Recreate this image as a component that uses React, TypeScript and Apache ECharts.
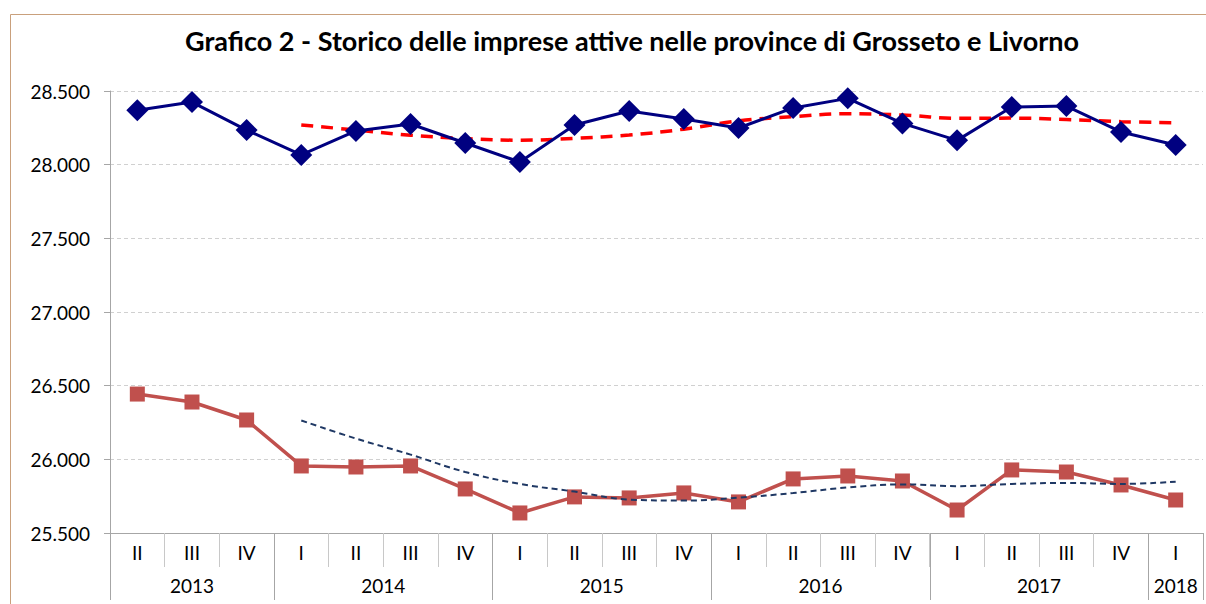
import React, { useEffect, useRef } from "react";
import * as echarts from "echarts";

const quarters = ["II", "III", "IV", "I", "II", "III", "IV", "I", "II", "III", "IV", "I", "II", "III", "IV", "I", "II", "III", "IV", "I"];
const years = ["2013", "2014", "2015", "2016", "2017", "2018"];
const yearSpans = [3, 4, 4, 4, 4, 1];

const grosseto = [28370, 28425, 28235, 28066, 28229, 28276, 28147, 28018, 28269, 28364, 28310, 28249, 28385, 28450, 28280, 28165, 28391, 28398, 28222, 28134];
const livorno = [26443, 26389, 26267, 25955, 25948, 25955, 25799, 25636, 25745, 25738, 25772, 25711, 25867, 25887, 25853, 25656, 25928, 25914, 25826, 25724];
const grossetoTrend = [null, null, null, 28270, 28235, 28200, 28177, 28166, 28179, 28201, 28241, 28297, 28326, 28346, 28337, 28315, 28316, 28306, 28292, 28284];
const livornoTrend = [null, null, null, 26264, 26141, 26032, 25914, 25833, 25781, 25727, 25720, 25740, 25771, 25809, 25830, 25818, 25833, 25840, 25833, 25848];

const fmt = (v: number) => {
  const s = Math.round(v).toString();
  return s.replace(/\B(?=(\d{3})+(?!\d))/g, ".");
};

export default function App() {
  const ref = useRef<HTMLDivElement>(null);
  useEffect(() => {
    if (!ref.current) return;
    const chart = echarts.init(ref.current, null, { renderer: "svg" });

    // year axis: half-step slots so labels can sit at group centres
    const nSlots = quarters.length * 2 + 1;
    const yearSlots: string[] = new Array(nSlots).fill("");
    const boundaries = new Set<number>();
    let start = 0;
    years.forEach((y, i) => {
      boundaries.add(start * 2);
      yearSlots[start * 2 + yearSpans[i]] = y;
      start += yearSpans[i];
    });
    boundaries.add(start * 2);

    const font = "Lato, 'Open Sans', sans-serif";

    chart.setOption({
      animation: false,
      backgroundColor: "#ffffff",
      title: {
        text: "Grafico 2 - Storico delle imprese attive nelle province di Grosseto e Livorno",
        left: 627,
        textAlign: "center",
        top: 22,
        textStyle: { fontFamily: font, fontWeight: "bold", fontSize: 27, color: "#000000" },
      },
      graphic: [
        {
          type: "rect",
          shape: { x: 10.5, y: 14.5, width: 1300, height: 700 },
          style: { fill: "none", stroke: "#c9a07c", lineWidth: 1 },
          silent: true,
        },
      ],
      grid: { left: 110, top: 91, width: 1100, height: 442 },
      xAxis: [
        {
          type: "category",
          data: quarters,
          position: "bottom",
          boundaryGap: true,
          axisLine: { lineStyle: { color: "#a6a6a6", width: 1 } },
          axisTick: { show: true, interval: 0, length: 34, lineStyle: { color: "#c8c8c8" } },
          axisLabel: { interval: 0, margin: 10, fontFamily: font, fontSize: 19, color: "#000000" },
          splitLine: { show: false },
        },
        {
          type: "category",
          data: yearSlots,
          position: "bottom",
          offset: 0,
          boundaryGap: false,
          axisLine: { show: false },
          axisTick: {
            show: true,
            interval: (index: number) => boundaries.has(index),
            length: 67,
            lineStyle: { color: "#a6a6a6" },
          },
          axisLabel: { interval: 0, margin: 43, fontFamily: font, fontSize: 19, color: "#000000" },
          splitLine: { show: false },
        },
      ],
      yAxis: {
        type: "value",
        min: 25500,
        max: 28500,
        interval: 500,
        axisLine: { show: true, lineStyle: { color: "#a6a6a6" } },
        axisTick: { show: true, length: 6, lineStyle: { color: "#a6a6a6" } },
        axisLabel: { margin: 20, fontFamily: font, fontSize: 19, color: "#000000", formatter: (v: number) => fmt(v) },
        splitLine: { show: true, lineStyle: { color: "#d0d0d0", type: [4, 3], width: 1 } },
      },
      series: [
        {
          name: "Grosseto trend",
          type: "line",
          data: grossetoTrend,
          xAxisIndex: 0,
          smooth: 0.4,
          showSymbol: false,
          symbol: "none",
          lineStyle: { color: "#ff0000", width: 3.5, type: [12, 8] },
          z: 3,
        },
        {
          name: "Livorno trend",
          type: "line",
          data: livornoTrend,
          xAxisIndex: 0,
          smooth: 0.4,
          showSymbol: false,
          symbol: "none",
          lineStyle: { color: "#1f3864", width: 2, type: [6, 4] },
          z: 3,
        },
        {
          name: "Grosseto",
          type: "line",
          data: grosseto,
          xAxisIndex: 0,
          symbol: "diamond",
          symbolSize: 22,
          itemStyle: { color: "#000080" },
          lineStyle: { color: "#000080", width: 3 },
          z: 4,
        },
        {
          name: "Livorno",
          type: "line",
          data: livorno,
          xAxisIndex: 0,
          symbol: "rect",
          symbolSize: 15,
          itemStyle: { color: "#c0504d" },
          lineStyle: { color: "#c0504d", width: 3.5 },
          z: 2,
        },
      ],
    });
    return () => chart.dispose();
  }, []);
  return <div ref={ref} style={{ position: "absolute", left: 0, top: 0, width: 1206, height: 604 }} />;
}
